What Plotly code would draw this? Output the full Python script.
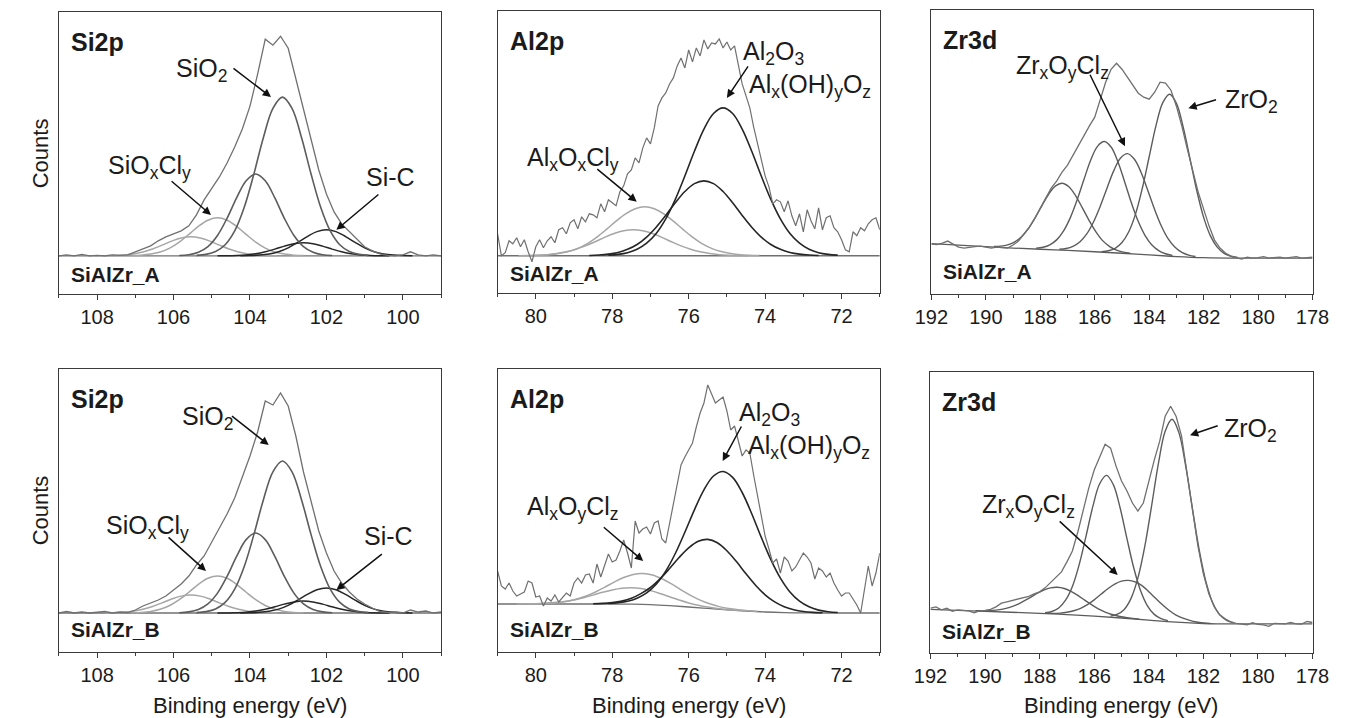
import plotly.graph_objects as go

FONT = "Liberation Sans, Arial, Helvetica, sans-serif"
TXT = "#1b1b1b"
FRAME = "#3a3a3a"

# ---------------- Si2p (energy grid shared by SiAlZr_A and SiAlZr_B) ----------------
SI_E = [109.0, 108.8, 108.6, 108.4, 108.2, 108.0, 107.8, 107.6, 107.4, 107.2,
        107.0, 106.8, 106.6, 106.4, 106.2, 106.0, 105.8, 105.6, 105.4, 105.2,
        105.0, 104.8, 104.6, 104.4, 104.2, 104.0, 103.8, 103.6, 103.4, 103.2,
        103.0, 102.8, 102.6, 102.4, 102.2, 102.0, 101.8, 101.6, 101.4, 101.2,
        101.0, 100.8, 100.6, 100.4, 100.2, 100.0, 99.8, 99.6, 99.4, 99.2, 99.0]
SI_A_ENV = [0, 1, 0, 1.5, 0, 0.5, 0, 1, 0.5, 1,
            4, 7, 10, 15, 19, 22, 25, 30, 41, 56,
            68, 79, 93, 109, 127, 150, 182, 217, 211, 220,
            208, 177, 148, 117, 86, 62, 44, 32, 24, 16,
            9, 5, 2, 0.5, 0, 1, 4, 1, 0, 1, 0]
SI_B_ENV = [0, 1.5, 0, 1, 0, 0.5, 1.5, 0, 1, 0.5,
            3, 7, 10, 13, 17, 23, 29, 37, 48, 57,
            71, 85, 99, 115, 135, 157, 181, 212, 208, 220,
            207, 177, 141, 110, 82, 60, 42, 30, 21, 14,
            9, 5, 1.5, 0.5, 1, 0, 3, 1, 2, 0, 1]
SI_BASE_E = [109.0, 99.0]
SI_BASE = [0, 0]

E_SIO2 = [100.9, 101.15, 101.4, 101.65, 101.9, 102.15, 102.4, 102.65, 102.9, 103.15,
          103.4, 103.65, 103.9, 104.15, 104.4, 104.65, 104.9, 105.15, 105.4]
SIO2_A = [0.4, 1.4, 4.3, 11.1, 25.0, 48.7, 81.7, 118.3, 147.7, 159,
          147.7, 118.3, 81.7, 48.7, 25.0, 11.1, 4.3, 1.4, 0.4]
SIO2_B = [0.4, 1.4, 4.1, 10.6, 23.9, 46.5, 78.1, 113.1, 141.2, 152,
          141.2, 113.1, 78.1, 46.5, 23.9, 10.6, 4.1, 1.4, 0.4]
E_SIO2_D = [101.85, 102.1, 102.35, 102.6, 102.85, 103.1, 103.35, 103.6, 103.85,
            104.1, 104.35, 104.6, 104.85, 105.1, 105.35, 105.6, 105.85]
SIO2D_A = [0.3, 1.1, 3.6, 9.3, 20.4, 37.6, 58.0, 75.2, 82,
           75.2, 58.0, 37.6, 20.4, 9.3, 3.6, 1.1, 0.3]
SIO2D_B = [0.3, 1.1, 3.5, 9.1, 19.9, 36.6, 56.6, 73.4, 80,
           73.4, 56.6, 36.6, 19.9, 9.1, 3.5, 1.1, 0.3]
E_SIOCL = [102.6, 102.85, 103.1, 103.35, 103.6, 103.85, 104.1, 104.35, 104.6, 104.85,
           105.1, 105.35, 105.6, 105.85, 106.1, 106.35, 106.6, 106.85, 107.1]
SIOCL_A = [0.2, 0.6, 1.7, 3.8, 7.7, 13.7, 21.4, 29.5, 35.6, 38,
           35.6, 29.5, 21.4, 13.7, 7.7, 3.8, 1.7, 0.6, 0.2]
SIOCL_B = [0.2, 0.6, 1.6, 3.7, 7.5, 13.3, 20.8, 28.7, 34.7, 37,
           34.7, 28.7, 20.8, 13.3, 7.5, 3.7, 1.6, 0.6, 0.2]
E_SIOCL_D = [103.3, 103.55, 103.8, 104.05, 104.3, 104.55, 104.8, 105.05, 105.3, 105.55,
             105.8, 106.05, 106.3, 106.55, 106.8, 107.05, 107.3, 107.55, 107.8]
SIOCLD_A = [0.1, 0.3, 0.8, 1.9, 3.9, 6.8, 10.7, 14.7, 17.8, 19,
            17.8, 14.7, 10.7, 6.8, 3.9, 1.9, 0.8, 0.3, 0.1]
SIOCLD_B = [0.1, 0.3, 0.8, 1.8, 3.7, 6.5, 10.1, 14.0, 16.9, 18,
            16.9, 14.0, 10.1, 6.5, 3.7, 1.8, 0.8, 0.3, 0.1]
E_SIC = [99.75, 100.0, 100.25, 100.5, 100.75, 101.0, 101.25, 101.5, 101.75, 102.0,
         102.25, 102.5, 102.75, 103.0, 103.25, 103.5, 103.75, 104.0, 104.25]
SIC_A = [0.1, 0.2, 0.7, 1.8, 4.1, 8.0, 13.4, 19.3, 24.2, 26,
         24.2, 19.3, 13.4, 8.0, 4.1, 1.8, 0.7, 0.2, 0.1]
SIC_B = [0.1, 0.2, 0.7, 1.8, 3.9, 7.7, 12.9, 18.6, 23.2, 25,
         23.2, 18.6, 12.9, 7.7, 3.9, 1.8, 0.7, 0.2, 0.1]
E_SIC_D = [100.35, 100.6, 100.85, 101.1, 101.35, 101.6, 101.85, 102.1, 102.35, 102.6,
           102.85, 103.1, 103.35, 103.6, 103.85, 104.1, 104.35, 104.6, 104.85]
SICD_A = [0.03, 0.1, 0.35, 0.9, 2.0, 4.0, 6.7, 9.7, 12.1, 13,
          12.1, 9.7, 6.7, 4.0, 2.0, 0.9, 0.35, 0.1, 0.03]
SICD_B = [0.03, 0.1, 0.3, 0.8, 1.9, 3.7, 6.2, 8.9, 11.1, 12,
          11.1, 8.9, 6.2, 3.7, 1.9, 0.8, 0.3, 0.1, 0.03]

# ---------------- Al2p ----------------
AL_E = [81.0, 80.9, 80.8, 80.7, 80.6, 80.5, 80.4, 80.3, 80.2, 80.1,
        80.0, 79.9, 79.8, 79.7, 79.6, 79.5, 79.4, 79.3, 79.2, 79.1,
        79.0, 78.9, 78.8, 78.7, 78.6, 78.5, 78.4, 78.3, 78.2, 78.1,
        78.0, 77.9, 77.8, 77.7, 77.6, 77.5, 77.4, 77.3, 77.2, 77.1,
        77.0, 76.9, 76.8, 76.7, 76.6, 76.5, 76.4, 76.3, 76.2, 76.1,
        76.0, 75.9, 75.8, 75.7, 75.6, 75.5, 75.4, 75.3, 75.2, 75.1,
        75.0, 74.9, 74.8, 74.7, 74.6, 74.5, 74.4, 74.3, 74.2, 74.1,
        74.0, 73.9, 73.8, 73.7, 73.6, 73.5, 73.4, 73.3, 73.2, 73.1,
        73.0, 72.9, 72.8, 72.7, 72.6, 72.5, 72.4, 72.3, 72.2, 72.1,
        72.0, 71.9, 71.8, 71.7, 71.6, 71.5, 71.4, 71.3, 71.2, 71.1, 71.0]
AL_A_ENV = [22, 0, 3, 15, 12, 18, 9, 16, 4, -6,
            9, 16, 8, 15, 19, 13, 26, 28, 22, 33,
            36, 27, 39, 34, 42, 41, 38, 52, 44, 56,
            53, 50, 64, 70, 82, 86, 98, 93, 108, 118,
            112, 128, 150, 158, 163, 172, 178, 190, 198, 188,
            206, 194, 208, 200, 216, 207, 213, 212, 217, 208,
            214, 206, 210, 192, 172, 160, 148, 129, 113, 95,
            80, 69, 52, 56, 54, 44, 55, 40, 30, 42,
            24, 46, 35, 27, 48, 26, 38, 40, 28, 24,
            16, 6, 4, 24, 20, 28, 25, 32, 36, 38, 26]
AL_B_ENV = [42, 27, 24, 30, 22, 17, 19, 21, 32, 30,
            16, 17, 7, 15, 12, 18, 11, 16, 20, 17,
            30, 35, 30, 38, 39, 30, 49, 36, 48, 59,
            51, 53, 62, 73, 60, 45, 92, 80, 84, 86,
            79, 90, 92, 74, 70, 90, 110, 128, 148, 156,
            163, 170, 186, 200, 210, 228, 219, 210, 213, 216,
            202, 183, 187, 172, 157, 163, 160, 138, 117, 97,
            77, 64, 50, 54, 40, 56, 52, 42, 46, 53,
            60, 56, 50, 34, 45, 42, 36, 40, 30, 23,
            17, 20, 20, 14, 8, 0, 25, 47, 27, 40, 60]
AL_A_BG_E = [81.0, 71.0]
AL_A_BG = [0, 0]
AL_B_BG_E = [81.0, 78.0, 77.5, 77.0, 76.5, 76.0, 75.5, 75.0, 74.5, 74.0, 73.5, 73.0, 72.5, 71.0]
AL_B_BG = [9, 9, 8.8, 8.3, 7.3, 6, 4.6, 3.2, 2, 1, 0.4, 0.1, 0, 0]

E_AL_OX = [72.1, 72.35, 72.6, 72.85, 73.1, 73.35, 73.6, 73.85, 74.1, 74.35, 74.6, 74.85, 75.1,
           75.35, 75.6, 75.85, 76.1, 76.35, 76.6, 76.85, 77.1, 77.35, 77.6, 77.85, 78.1]
ALOX_A = [0.6, 1.4, 3.1, 6.5, 12.6, 22.3, 36.9, 56.4, 79.8, 104.6, 126.8, 142.4, 148,
          142.4, 126.8, 104.6, 79.8, 56.4, 36.9, 22.3, 12.6, 6.5, 3.1, 1.4, 0.6]
ALOX_B = [0.5, 1.3, 2.9, 6.2, 11.9, 21.1, 34.9, 53.4, 75.6, 99.3, 120.5, 135.6, 141.5,
          137.0, 123.2, 103.2, 80.7, 59.5, 41.9, 28.8, 20.1, 14.8, 11.7, 10.3, 9.5]
E_AL_OH_A = [72.6, 72.85, 73.1, 73.35, 73.6, 73.85, 74.1, 74.35, 74.6, 74.85, 75.1, 75.35, 75.6,
             75.85, 76.1, 76.35, 76.6, 76.85, 77.1, 77.35, 77.6, 77.85, 78.1, 78.35, 78.6]
ALOH_A = [0.3, 0.7, 1.6, 3.3, 6.4, 11.3, 18.7, 28.6, 40.4, 53.0, 64.3, 72.2, 75,
          72.2, 64.3, 53.0, 40.4, 28.6, 18.7, 11.3, 6.4, 3.3, 1.6, 0.7, 0.3]
E_AL_OH_B = [72.5, 72.75, 73.0, 73.25, 73.5, 73.75, 74.0, 74.25, 74.5, 74.75, 75.0, 75.25, 75.5,
             75.75, 76.0, 76.25, 76.5, 76.75, 77.0, 77.25, 77.5, 77.75, 78.0, 78.25, 78.5]
ALOH_B = [0.3, 0.6, 1.5, 3.3, 6.3, 11.1, 18.2, 27.8, 39.2, 51.4, 62.3, 70.3, 73.6,
          71.7, 65.1, 55.5, 44.5, 34.1, 25.5, 19.4, 14.7, 11.9, 10.4, 9.6, 9.3]
E_AL_CL1_A = [74.15, 74.4, 74.65, 74.9, 75.15, 75.4, 75.65, 75.9, 76.15, 76.4, 76.65, 76.9, 77.15,
              77.4, 77.65, 77.9, 78.15, 78.4, 78.65, 78.9, 79.15, 79.4, 79.65, 79.9, 80.15]
ALCL1_A = [0.2, 0.5, 1.0, 2.2, 4.2, 7.4, 12.2, 18.7, 26.4, 34.6, 42.0, 47.1, 49,
           47.1, 42.0, 34.6, 26.4, 18.7, 12.2, 7.4, 4.2, 2.2, 1.0, 0.5, 0.2]
E_AL_CL1_B = [74.2, 74.45, 74.7, 74.95, 75.2, 75.45, 75.7, 75.95, 76.2, 76.45, 76.7, 76.95, 77.2,
              77.45, 77.7, 77.95, 78.2, 78.45, 78.7, 78.95, 79.2, 79.45, 79.7, 79.95, 80.2]
ALCL1_B = [1.5, 2.2, 3.2, 4.5, 6.4, 9.2, 12.9, 17.7, 23.2, 29.1, 34.3, 38.1, 39.5,
           38.6, 35.5, 30.9, 25.7, 20.8, 16.7, 13.7, 11.6, 10.4, 9.7, 9.3, 9.1]
E_AL_CL2_A = [74.45, 74.7, 74.95, 75.2, 75.45, 75.7, 75.95, 76.2, 76.45, 76.7, 76.95, 77.2, 77.45,
              77.7, 77.95, 78.2, 78.45, 78.7, 78.95, 79.2, 79.45, 79.7, 79.95, 80.2, 80.45]
ALCL2_A = [0.1, 0.2, 0.5, 1.1, 2.2, 3.9, 6.5, 9.9, 14.0, 18.4, 22.3, 25.0, 26,
           25.0, 22.3, 18.4, 14.0, 9.9, 6.5, 3.9, 2.2, 1.1, 0.5, 0.2, 0.1]
E_AL_CL2_B = [74.5, 74.75, 75.0, 75.25, 75.5, 75.75, 76.0, 76.25, 76.5, 76.75, 77.0, 77.25, 77.5,
              77.75, 78.0, 78.25, 78.5, 78.75, 79.0, 79.25, 79.5, 79.75, 80.0, 80.25, 80.5]
ALCL2_B = [2.1, 2.75, 3.55, 4.6, 6.0, 7.8, 10.1, 12.95, 16.2, 19.5, 22.4, 24.45, 25.3,
           24.8, 23.1, 20.7, 17.9, 15.3, 13.1, 11.5, 10.4, 9.7, 9.35, 9.15, 9.06]

# ---------------- Zr3d ----------------
ZR_E = [192.0, 191.8, 191.6, 191.4, 191.2, 191.0, 190.8, 190.6, 190.4, 190.2,
        190.0, 189.8, 189.6, 189.4, 189.2, 189.0, 188.8, 188.6, 188.4, 188.2,
        188.0, 187.8, 187.6, 187.4, 187.2, 187.0, 186.8, 186.6, 186.4, 186.2,
        186.0, 185.8, 185.6, 185.4, 185.2, 185.0, 184.8, 184.6, 184.4, 184.2,
        184.0, 183.8, 183.6, 183.4, 183.2, 183.0, 182.8, 182.6, 182.4, 182.2,
        182.0, 181.8, 181.6, 181.4, 181.2, 181.0, 180.8, 180.6, 180.4, 180.2,
        180.0, 179.8, 179.6, 179.4, 179.2, 179.0, 178.8, 178.6, 178.4, 178.2, 178.0]
ZR_A_ENV = [14, 13.5, 15, 17, 14, 11, 10, 11, 11.5, 12,
            11, 10, 11, 10.5, 10, 13, 17, 24, 31, 40,
            50, 61, 70, 77, 86, 93, 103, 113, 122, 132,
            141, 158, 176, 189, 195, 189, 181, 172, 165, 161,
            159, 166, 176, 175, 168, 152, 132, 109, 86, 66,
            49, 32, 18, 10, 5, 2, 0.5, -1, 1, 0,
            0.5, 1.5, 0, 0.5, 1, 0, 0.5, 1.5, 0, 0.5, 1]
ZR_B_ENV = [15.7, 17, 14, 15.5, 12.5, 14, 13.5, 13, 11, 13,
            13.5, 14.5, 17, 20.7, 22, 23.5, 25, 26.5, 27.5, 30,
            32, 36, 41, 46, 52, 62, 73, 92, 114, 136,
            154, 168, 180, 176, 158, 143, 133, 121, 113, 121,
            143, 164, 183, 208, 218, 208, 188, 150, 112, 78,
            50, 30, 17, 9, 5, 2, 0.5, 0, -1, 1,
            -0.5, -1, -2.5, 0.5, 0, 0, 1.3, 0, -0.3, 2.3, 1.3]
ZR_A_BG_E = [192, 190, 189, 188, 187, 186, 185, 184, 183, 182, 181, 178]
ZR_A_BG = [14.5, 11.5, 10, 8.8, 7.6, 6.3, 4.8, 3.1, 1.5, 0.4, 0, 0]
ZR_B_BG_E = [192, 190, 188, 187, 186, 185, 184, 183, 182, 181.5, 178]
ZR_B_BG = [14.5, 12.5, 10.5, 9.2, 7.6, 5.8, 3.6, 1.6, 0.3, 0, 0]

E_ZR_A1 = [180.75, 181.0, 181.25, 181.5, 181.75, 182.0, 182.25, 182.5, 182.75, 183.0, 183.25,
           183.5, 183.75, 184.0, 184.25, 184.5, 184.75, 185.0, 185.25, 185.5, 185.75]
ZR_A1 = [0.6, 1.8, 4.7, 10.9, 22.2, 40.7, 67.3, 99.3, 131.0, 154.8, 163.9,
         155.6, 132.5, 101.4, 70.1, 44.2, 26.3, 15.5, 9.7, 7.3, 6.4]
E_ZR_A2 = [182.3, 182.55, 182.8, 183.05, 183.3, 183.55, 183.8, 184.05, 184.3, 184.55, 184.8,
           185.05, 185.3, 185.55, 185.8, 186.05, 186.3, 186.55, 186.8, 187.05, 187.3]
ZR_A2 = [1.5, 2.9, 5.6, 10.7, 19.2, 31.9, 48.6, 67.6, 85.9, 99.1, 104.5,
         100.1, 87.5, 69.9, 51.7, 35.9, 23.9, 16.1, 11.8, 9.6, 8.8]
E_ZR_A3 = [183.15, 183.4, 183.65, 183.9, 184.15, 184.4, 184.65, 184.9, 185.15, 185.4, 185.65,
           185.9, 186.15, 186.4, 186.65, 186.9, 187.15, 187.4, 187.65, 187.9, 188.15]
ZR_A3 = [2.6, 4.3, 7.5, 13.1, 22.5, 36.5, 55.0, 76.2, 96.4, 111.1, 116.6,
         111.8, 97.9, 78.3, 57.9, 40.2, 26.9, 18.2, 13.3, 10.8, 9.8]
E_ZR_A4 = [184.7, 184.95, 185.2, 185.45, 185.7, 185.95, 186.2, 186.45, 186.7, 186.95, 187.2,
           187.45, 187.7, 187.95, 188.2, 188.45, 188.7, 188.95, 189.2, 189.45, 189.7]
ZR_A4 = [4.8, 6.0, 8.0, 11.5, 17.2, 26.0, 37.3, 50.0, 62.3, 71.4, 74.9,
         72.0, 63.6, 51.9, 39.7, 29.1, 21.1, 16.0, 13.2, 11.9, 11.5]

E_ZR_B1 = [180.9, 181.15, 181.4, 181.65, 181.9, 182.15, 182.4, 182.65, 182.9, 183.15,
           183.4, 183.65, 183.9, 184.15, 184.4, 184.65, 184.9, 185.15, 185.4]
ZR_B1 = [1.2, 3.5, 8.9, 20.6, 41.5, 73.6, 115.1, 158.4, 191.8, 204.9,
         192.9, 160.2, 117.7, 77.0, 45.7, 25.5, 14.4, 9.6, 7.7]
E_ZR_B2 = [183.3, 183.55, 183.8, 184.05, 184.3, 184.55, 184.8, 185.05, 185.3, 185.55,
           185.8, 186.05, 186.3, 186.55, 186.8, 187.05, 187.3, 187.55, 187.8]
ZR_B2 = [3.1, 5.1, 9.4, 18.0, 33.1, 55.9, 85.3, 116.0, 139.5, 148.7,
         140.3, 117.6, 87.8, 59.4, 37.4, 23.6, 15.8, 12.3, 11.1]
E_ZR_B3 = [181.75, 182.0, 182.25, 182.5, 182.75, 183.0, 183.25, 183.5, 183.75, 184.0, 184.25, 184.5,
           184.75, 185.0, 185.25, 185.5, 185.75, 186.0, 186.25, 186.5, 186.75, 187.0, 187.25, 187.5, 187.75]
ZR_B3 = [0.4, 0.9, 1.8, 3.4, 5.6, 8.7, 13.3, 19.0, 25.5, 32.1, 38.2, 42.0,
         43.5, 42.8, 39.8, 35.1, 29.6, 24.0, 19.2, 15.5, 13.1, 11.6, 10.7, 10.4, 10.5]
E_ZR_B4 = [184.35, 184.6, 184.85, 185.1, 185.35, 185.6, 185.85, 186.1, 186.35, 186.6, 186.85, 187.1,
           187.35, 187.6, 187.85, 188.1, 188.35, 188.6, 188.85, 189.1, 189.35, 189.6, 189.85, 190.1, 190.35]
ZR_B4 = [4.6, 5.4, 6.4, 7.6, 9.3, 11.7, 14.9, 19.2, 23.7, 28.4, 32.4, 35.4,
         36.6, 36.0, 33.7, 30.4, 26.3, 22.5, 19.0, 16.5, 14.7, 13.7, 13.2, 13.0, 13.0]

# ---------------- labels ----------------
CORE_LEVELS = ["Si2p", "Al2p", "Zr3d", "Si2p", "Al2p", "Zr3d"]
SAMPLES = ["SiAlZr_A", "SiAlZr_A", "SiAlZr_A", "SiAlZr_B", "SiAlZr_B", "SiAlZr_B"]
X_TITLE = "Binding energy (eV)"
Y_TITLE = "Counts"

# ---------------- styles / layout geometry ----------------
C_ENV = "#707070"
C_MID = "#5c5c5c"
C_LIGHT = "#a6a6a6"
C_DARK = "#262626"

DOMAINS = {
    1: ([0.0318, 0.3220], [0.5905, 0.9833]),
    2: ([0.3649, 0.6551], [0.5919, 0.9847]),
    3: ([0.6943, 0.9837], [0.5905, 0.9861]),
    4: ([0.0318, 0.3220], [0.0919, 0.4861]),
    5: ([0.3649, 0.6551], [0.0919, 0.4861]),
    6: ([0.6936, 0.9837], [0.0905, 0.4819]),
}
XRANGE = {1: [109, 99], 2: [81, 71], 3: [192, 178], 4: [109, 99], 5: [81, 71], 6: [192, 178]}
YRANGE = {1: [-38.3, 244.3], 2: [-37.3, 245], 3: [-36, 248.3],
          4: [-39, 244], 5: [-39, 244], 6: [-29.3, 252.3]}
SAMPLE_Y = {1: 0.022, 2: 0.022, 3: 0.032, 4: 0.032, 5: 0.032, 6: 0.03}

fig = go.Figure()


def ax(n):
    return ("x" if n == 1 else f"x{n}"), ("y" if n == 1 else f"y{n}")


def line(n, x, y, color, width, shape="linear"):
    xa, ya = ax(n)
    fig.add_trace(go.Scatter(x=x, y=y, mode="lines", xaxis=xa, yaxis=ya,
                             line=dict(color=color, width=width, shape=shape),
                             showlegend=False, hoverinfo="skip"))


# panel 1: Si2p A
line(1, SI_BASE_E, SI_BASE, C_ENV, 1.3)
line(1, E_SIOCL_D, SIOCLD_A, C_LIGHT, 1.5, "spline")
line(1, E_SIOCL, SIOCL_A, C_LIGHT, 1.5, "spline")
line(1, E_SIC_D, SICD_A, C_DARK, 1.5, "spline")
line(1, E_SIC, SIC_A, C_DARK, 1.5, "spline")
line(1, E_SIO2_D, SIO2D_A, C_MID, 1.6, "spline")
line(1, E_SIO2, SIO2_A, C_MID, 1.6, "spline")
line(1, SI_E, SI_A_ENV, C_ENV, 1.3)

# panel 4: Si2p B
line(4, SI_BASE_E, SI_BASE, C_ENV, 1.3)
line(4, E_SIOCL_D, SIOCLD_B, C_LIGHT, 1.5, "spline")
line(4, E_SIOCL, SIOCL_B, C_LIGHT, 1.5, "spline")
line(4, E_SIC_D, SICD_B, C_DARK, 1.5, "spline")
line(4, E_SIC, SIC_B, C_DARK, 1.5, "spline")
line(4, E_SIO2_D, SIO2D_B, C_MID, 1.6, "spline")
line(4, E_SIO2, SIO2_B, C_MID, 1.6, "spline")
line(4, SI_E, SI_B_ENV, C_ENV, 1.3)

# panel 2: Al2p A
line(2, AL_A_BG_E, AL_A_BG, C_ENV, 1.3)
line(2, E_AL_CL2_A, ALCL2_A, C_LIGHT, 1.5, "spline")
line(2, E_AL_CL1_A, ALCL1_A, C_LIGHT, 1.5, "spline")
line(2, E_AL_OH_A, ALOH_A, C_DARK, 1.6, "spline")
line(2, E_AL_OX, ALOX_A, C_DARK, 1.6, "spline")
line(2, AL_E, AL_A_ENV, C_ENV, 1.2)

# panel 5: Al2p B
line(5, AL_B_BG_E, AL_B_BG, C_ENV, 1.3, "spline")
line(5, E_AL_CL2_B, ALCL2_B, C_LIGHT, 1.5, "spline")
line(5, E_AL_CL1_B, ALCL1_B, C_LIGHT, 1.5, "spline")
line(5, E_AL_OH_B, ALOH_B, C_DARK, 1.6, "spline")
line(5, E_AL_OX, ALOX_B, C_DARK, 1.6, "spline")
line(5, AL_E, AL_B_ENV, C_ENV, 1.2)

# panel 3: Zr3d A
line(3, ZR_A_BG_E, ZR_A_BG, C_MID, 1.3, "spline")
line(3, E_ZR_A4, ZR_A4, C_MID, 1.4, "spline")
line(3, E_ZR_A3, ZR_A3, C_MID, 1.4, "spline")
line(3, E_ZR_A2, ZR_A2, C_MID, 1.4, "spline")
line(3, E_ZR_A1, ZR_A1, C_MID, 1.4, "spline")
line(3, ZR_E, ZR_A_ENV, C_ENV, 1.3)

# panel 6: Zr3d B
line(6, ZR_B_BG_E, ZR_B_BG, C_MID, 1.3, "spline")
line(6, E_ZR_B4, ZR_B4, C_MID, 1.4, "spline")
line(6, E_ZR_B3, ZR_B3, C_MID, 1.4, "spline")
line(6, E_ZR_B2, ZR_B2, C_MID, 1.4, "spline")
line(6, E_ZR_B1, ZR_B1, C_MID, 1.4, "spline")
line(6, ZR_E, ZR_B_ENV, C_ENV, 1.3)

layout = dict(
    width=1351, height=718,
    margin=dict(l=0, r=0, t=0, b=0),
    paper_bgcolor="white", plot_bgcolor="white",
    font=dict(family=FONT, color=TXT),
    showlegend=False,
)
for n in range(1, 7):
    xd, yd = DOMAINS[n]
    xk = "xaxis" if n == 1 else f"xaxis{n}"
    yk = "yaxis" if n == 1 else f"yaxis{n}"
    layout[xk] = dict(
        domain=xd, anchor="y" if n == 1 else f"y{n}", range=XRANGE[n],
        tickmode="linear", tick0=0, dtick=2, ticks="outside", ticklen=5,
        tickwidth=1.3, tickcolor=FRAME, showline=True, mirror=True,
        linecolor=FRAME, linewidth=1.4, showgrid=False, zeroline=False,
        tickfont=dict(family=FONT, size=20, color=TXT),
        minor=dict(tick0=0, dtick=1, ticks="outside", ticklen=3, tickwidth=1.1,
                   tickcolor=FRAME, showgrid=False),
    )
    layout[yk] = dict(
        domain=yd, anchor="x" if n == 1 else f"x{n}", range=YRANGE[n],
        showticklabels=False, ticks="", showline=True, mirror=True,
        linecolor=FRAME, linewidth=1.4, showgrid=False, zeroline=False,
    )
fig.update_layout(**layout)

ann = []
for n in range(1, 7):
    xa, ya = ax(n)
    ann.append(dict(text=f"<b>{CORE_LEVELS[n-1]}</b>", xref=f"{xa} domain", yref=f"{ya} domain",
                    x=0.026, y=0.95, xanchor="left", yanchor="top", showarrow=False,
                    font=dict(family=FONT, size=25, color=TXT)))
    ann.append(dict(text=f"<b>{SAMPLES[n-1]}</b>", xref=f"{xa} domain", yref=f"{ya} domain",
                    x=0.026, y=SAMPLE_Y[n], xanchor="left", yanchor="bottom", showarrow=False,
                    font=dict(family=FONT, size=21, color=TXT)))

# peak labels (text, panel, x, y)
LABELS = [
    ("SiO<sub>2</sub>", 1, 105.28, 186),
    ("SiO<sub>x</sub>Cl<sub>y</sub>", 1, 106.64, 89),
    ("Si-C", 1, 100.32, 79),
    ("SiO<sub>2</sub>", 4, 105.11, 195),
    ("SiO<sub>x</sub>Cl<sub>y</sub>", 4, 106.68, 86),
    ("Si-C", 4, 100.37, 77),
    ("Al<sub>2</sub>O<sub>3</sub>", 2, 73.77, 203),
    ("Al<sub>x</sub>(OH)<sub>y</sub>O<sub>z</sub>", 2, 72.83, 170),
    ("Al<sub>x</sub>O<sub>x</sub>Cl<sub>y</sub>", 2, 79.02, 97),
    ("Al<sub>2</sub>O<sub>3</sub>", 5, 73.89, 199),
    ("Al<sub>x</sub>(OH)<sub>y</sub>O<sub>z</sub>", 5, 72.85, 166),
    ("Al<sub>x</sub>O<sub>y</sub>Cl<sub>z</sub>", 5, 79.02, 105),
    ("Zr<sub>x</sub>O<sub>y</sub>Cl<sub>z</sub>", 3, 187.19, 191),
    ("ZrO<sub>2</sub>", 3, 180.24, 157),
    ("ZrO<sub>2</sub>", 6, 180.29, 194),
    ("Zr<sub>x</sub>O<sub>y</sub>Cl<sub>z</sub>", 6, 188.39, 118),
]
for text, n, x, y in LABELS:
    xa, ya = ax(n)
    ann.append(dict(text=text, xref=xa, yref=ya, x=x, y=y, xanchor="center", yanchor="middle",
                    showarrow=False, font=dict(family=FONT, size=25, color=TXT)))

# arrows (panel, tail x, tail y, head x, head y)
ARROWS = [
    (1, 104.47, 189, 103.45, 159), (1, 106.09, 76, 105.02, 41), (1, 100.6, 62.7, 101.74, 26),
    (4, 104.51, 198, 103.51, 168), (4, 106.17, 77, 105.15, 42), (4, 100.51, 60, 101.74, 23),
    (2, 74.42, 191, 75.0, 158), (2, 78.43, 88, 77.36, 54),
    (5, 74.6, 188, 75.11, 152), (5, 78.26, 87, 77.19, 52),
    (3, 186.2, 185, 184.89, 112), (3, 181.49, 159, 182.56, 150),
    (6, 181.42, 199, 182.49, 189), (6, 187.32, 104, 185.14, 49),
]
for n, tx, ty, hx, hy in ARROWS:
    xa, ya = ax(n)
    ann.append(dict(text="", xref=xa, yref=ya, x=hx, y=hy, axref=xa, ayref=ya, ax=tx, ay=ty,
                    showarrow=True, arrowhead=2, arrowsize=1.1, arrowwidth=1.5,
                    arrowcolor="#111111", standoff=0))

# axis titles
for yc in (0.787, 0.2897):
    ann.append(dict(text=Y_TITLE, xref="paper", yref="paper", x=0.0185, y=yc,
                    xanchor="center", yanchor="middle", textangle=-90, showarrow=False,
                    font=dict(family=FONT, size=22, color=TXT)))
for xc in (0.1769, 0.51, 0.8386):
    ann.append(dict(text=X_TITLE, xref="paper", yref="paper", x=xc, y=0.018,
                    xanchor="center", yanchor="middle", showarrow=False,
                    font=dict(family=FONT, size=22, color=TXT)))

fig.update_layout(annotations=ann)

# the page's default body margin would offset the fixed-size figure; remove it
PAGE_FIX = ("document.documentElement.style.margin='0';document.body.style.margin='0';"
            "document.body.style.padding='0';document.documentElement.style.overflow='hidden';"
            "document.body.style.overflow='hidden';")
fig.write_html("out.html", post_script=PAGE_FIX)
